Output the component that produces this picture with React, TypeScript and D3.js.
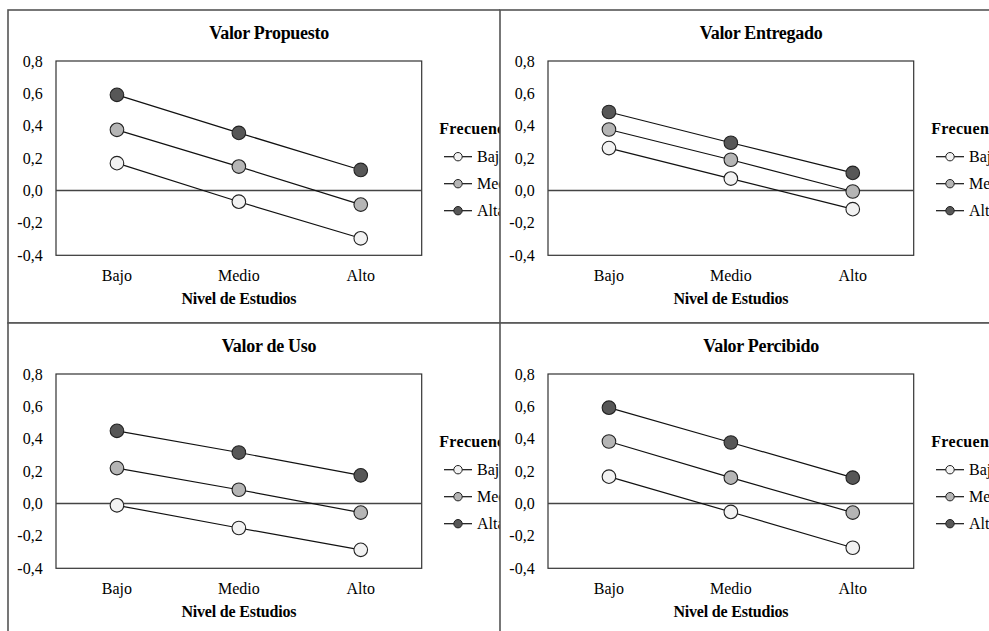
import React from "react";
import * as d3 from "d3";

const categories = ["Bajo", "Medio", "Alto"];
const seriesNames = ["Baja", "Media", "Alta"];
const yTicks = [-0.4, -0.2, 0, 0.2, 0.4, 0.6, 0.8];
const panelTitles = ["Valor Propuesto", "Valor Entregado", "Valor de Uso", "Valor Percibido"];

const propuestoBaja = [0.169, -0.069, -0.295];
const propuestoMedia = [0.375, 0.148, -0.087];
const propuestoAlta = [0.591, 0.356, 0.127];

const entregadoBaja = [0.262, 0.074, -0.115];
const entregadoMedia = [0.377, 0.19, -0.006];
const entregadoAlta = [0.485, 0.295, 0.109];

const usoBaja = [-0.011, -0.151, -0.286];
const usoMedia = [0.219, 0.085, -0.056];
const usoAlta = [0.449, 0.315, 0.174];

const percibidoBaja = [0.166, -0.052, -0.273];
const percibidoMedia = [0.383, 0.16, -0.056];
const percibidoAlta = [0.592, 0.377, 0.16];

const panelData = [
  [propuestoBaja, propuestoMedia, propuestoAlta],
  [entregadoBaja, entregadoMedia, entregadoAlta],
  [usoBaja, usoMedia, usoAlta],
  [percibidoBaja, percibidoMedia, percibidoAlta],
];

const fills = ["#f2f2f2", "#b5b5b5", "#575757"];
const FONT = "'Liberation Serif', 'Times New Roman', serif";
const W = 522;
const H = 313;
const origins = [
  [8, 10],
  [500, 10],
  [8, 323],
  [500, 323],
];

const fmt = (v: number) => d3.format(".1f")(v).replace(".", ",").replace("−", "-");

function Panel({ idx, ox, oy, title, data, visW }: { idx: number; ox: number; oy: number; title: string; data: number[][]; visW: number }) {
  const left = 48, right = 413.7, top = 51, bottom = 245.3;
  const x = d3.scaleBand<string>().domain(categories).range([left, right]);
  const y = d3.scaleLinear().domain([-0.4, 0.8]).range([bottom, top]);
  const line = d3
    .line<number>()
    .x((_, i) => (x(categories[i]) as number) + x.bandwidth() / 2)
    .y((d) => y(d));
  const clipId = `clip-panel-${idx}`;
  return (
    <g transform={`translate(${ox},${oy})`}>
      <defs>
        <clipPath id={clipId}>
          <rect x={-2} y={-2} width={visW + 2} height={H + 4} />
        </clipPath>
      </defs>
      <g clipPath={`url(#${clipId})`}>
        <rect x={0} y={0} width={W} height={H} fill="#fff" stroke="#555" strokeWidth={1.6} />
        <text x={W / 2} y={22.5} textAnchor="middle" dominantBaseline="central" fontFamily={FONT} fontWeight="bold" fontSize={18} letterSpacing={-0.3}>
          {title}
        </text>
        <rect x={left} y={top} width={right - left} height={bottom - top} fill="none" stroke="#333" strokeWidth={1.2} />
        <line x1={left} x2={right} y1={y(0)} y2={y(0)} stroke="#444" strokeWidth={1.4} />
        {yTicks.map((t) => (
          <text key={t} x={34.7} y={y(t)} textAnchor="end" dominantBaseline="central" fontFamily={FONT} fontSize={16}>
            {fmt(t)}
          </text>
        ))}
        {categories.map((c) => (
          <text key={c} x={(x(c) as number) + x.bandwidth() / 2} y={265} textAnchor="middle" dominantBaseline="central" fontFamily={FONT} fontSize={16}>
            {c}
          </text>
        ))}
        <text x={(left + right) / 2} y={288} textAnchor="middle" dominantBaseline="central" fontFamily={FONT} fontWeight="bold" fontSize={16} letterSpacing={-0.2}>
          Nivel de Estudios
        </text>
        {data.map((s, si) => (
          <g key={si}>
            <path d={line(s) || ""} fill="none" stroke="#111" strokeWidth={1.2} />
            {s.map((v, i) => (
              <circle key={i} cx={(x(categories[i]) as number) + x.bandwidth() / 2} cy={y(v)} r={6.8} fill={fills[si]} stroke="#222" strokeWidth={1.1} />
            ))}
          </g>
        ))}
        <text x={431.3} y={118} dominantBaseline="central" fontFamily={FONT} fontWeight="bold" fontSize={16} letterSpacing={0.3}>
          Frecuencia
        </text>
        {seriesNames.map((n, i) => {
          const ly = 146.7 + i * 27;
          return (
            <g key={n}>
              <line x1={436} x2={464} y1={ly} y2={ly} stroke="#111" strokeWidth={1.2} />
              <circle cx={450} cy={ly} r={4.2} fill={fills[i]} stroke="#222" strokeWidth={1} />
              <text x={469} y={ly} dominantBaseline="central" fontFamily={FONT} fontSize={16}>
                {n}
              </text>
            </g>
          );
        })}
      </g>
    </g>
  );
}

export default function App() {
  return (
    <svg width={989} height={631} style={{ position: "absolute", left: 0, top: 0, background: "#fff" }}>
      <rect x={0} y={0} width={989} height={631} fill="#fff" />
      {origins.map(([ox, oy], i) => (
        <Panel key={i} idx={i} ox={ox} oy={oy} title={panelTitles[i]} data={panelData[i]} visW={i % 2 === 0 ? 492 : W} />
      ))}
    </svg>
  );
}
